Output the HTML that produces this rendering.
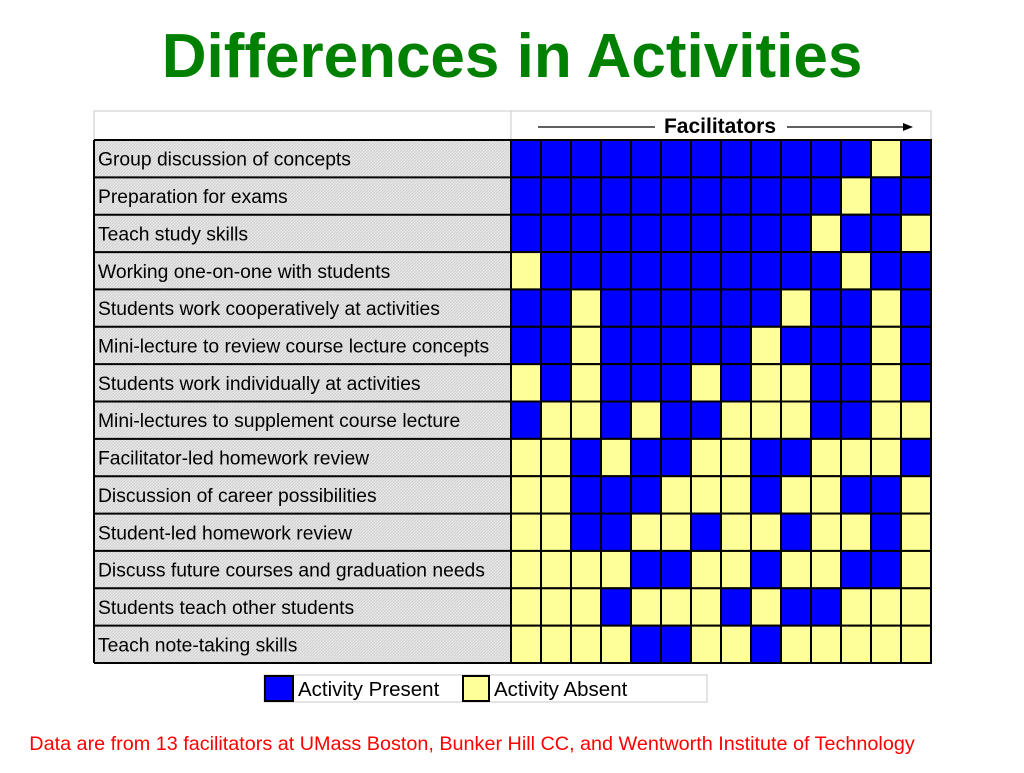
<!DOCTYPE html>
<html><head><meta charset="utf-8"><style>
body{margin:0;width:1024px;height:768px;background:#fff;font-family:"Liberation Sans",sans-serif;overflow:hidden}
</style></head><body>
<svg id="chart" width="1024" height="768">
<defs><pattern id="hatch" width="3" height="3" patternUnits="userSpaceOnUse"><rect width="3" height="3" fill="#e8e8e8"/><path d="M0,3 L3,0" stroke="#cfcfcf" stroke-width="1"/></pattern></defs>
<text x="512" y="77" text-anchor="middle" font-size="62" font-weight="bold" fill="#008000">Differences in Activities</text>
<rect x="94" y="111" width="837" height="29" fill="#fff" stroke="#c8c8c8"/>
<line x1="511" y1="111" x2="511" y2="140" stroke="#c8c8c8"/>
<line x1="538" y1="127" x2="655" y2="127" stroke="#000" stroke-width="1.3"/>
<line x1="787" y1="127" x2="905" y2="127" stroke="#000" stroke-width="1.3"/>
<polygon points="913,127 903,123 903,131" fill="#000"/>
<text x="720" y="133" text-anchor="middle" font-size="21" font-weight="bold">Facilitators</text>
<g id="grid"></g>
<rect x="264" y="675" width="443" height="27" fill="#fff" stroke="#c8c8c8"/>
<rect x="265" y="676" width="28" height="25" fill="#0000ff" stroke="#000" stroke-width="2"/>
<text x="298" y="696" font-size="20.5">Activity Present</text>
<rect x="463" y="676" width="26" height="25" fill="#ffff99" stroke="#000" stroke-width="2"/>
<text x="494" y="696" font-size="20.5">Activity Absent</text>
<text x="472" y="750" text-anchor="middle" font-size="19.8" fill="#ff0000">Data are from 13 facilitators at UMass Boston, Bunker Hill CC, and Wentworth Institute of Technology</text>
</svg>
<script>
const activities=["Group discussion of concepts","Preparation for exams","Teach study skills","Working one-on-one with students","Students work cooperatively at activities","Mini-lecture to review course lecture concepts","Students work individually at activities","Mini-lectures to supplement course lecture","Facilitator-led homework review","Discussion of career possibilities","Student-led homework review","Discuss future courses and graduation needs","Students teach other students","Teach note-taking skills"];
const presence=[
[1,1,1,1,1,1,1,1,1,1,1,1,0,1],
[1,1,1,1,1,1,1,1,1,1,1,0,1,1],
[1,1,1,1,1,1,1,1,1,1,0,1,1,0],
[0,1,1,1,1,1,1,1,1,1,1,0,1,1],
[1,1,0,1,1,1,1,1,1,0,1,1,0,1],
[1,1,0,1,1,1,1,1,0,1,1,1,0,1],
[0,1,0,1,1,1,0,1,0,0,1,1,0,1],
[1,0,0,1,0,1,1,0,0,0,1,1,0,0],
[0,0,1,0,1,1,0,0,1,1,0,0,0,1],
[0,0,1,1,1,0,0,0,1,0,0,1,1,0],
[0,0,1,1,0,0,1,0,0,1,0,0,1,0],
[0,0,0,0,1,1,0,0,1,0,0,1,1,0],
[0,0,0,1,0,0,0,1,0,1,1,0,0,0],
[0,0,0,0,1,1,0,0,1,0,0,0,0,0]];
const NS="http://www.w3.org/2000/svg";
const g=document.getElementById('grid');
const x0=511,x1=931,y0=140,y1=663,lx=94;
const nc=presence[0].length,nr=activities.length;
const cw=(x1-x0)/nc,rh=(y1-y0)/nr;
function X(c){return x0+c*cw}
function Y(r){return y0+r*rh}
function mk(t,a){const e=document.createElementNS(NS,t);for(const k in a)e.setAttribute(k,a[k]);g.appendChild(e);return e}
activities.forEach((name,r)=>{
  const bg=mk('rect',{x:lx,y:Y(r),width:x0-lx,height:rh,fill:'url(#hatch)'});
  
  
  const t=mk('text',{x:lx+4,y:Y(r)+rh/2+7,'font-size':19.3,fill:'#000'});
  t.textContent=name;
  
  
  presence[r].forEach((v,c)=>{
    const cell=mk('rect',{x:X(c),y:Y(r),width:cw,height:rh,fill:v?'#0000ff':'#ffff99',stroke:'#000','stroke-width':2});
    
    
  });
  mk('line',{x1:lx,y1:Y(r),x2:x0,y2:Y(r),stroke:'#000','stroke-width':2});
});
mk('line',{x1:lx,y1:y1,x2:x0,y2:y1,stroke:'#000','stroke-width':2});
mk('line',{x1:lx,y1:y0,x2:lx,y2:y1,stroke:'#000','stroke-width':2});
mk('rect',{x:x0,y:y0,width:x1-x0,height:y1-y0,fill:'none',stroke:'#000','stroke-width':2});
</script>
</body></html>
